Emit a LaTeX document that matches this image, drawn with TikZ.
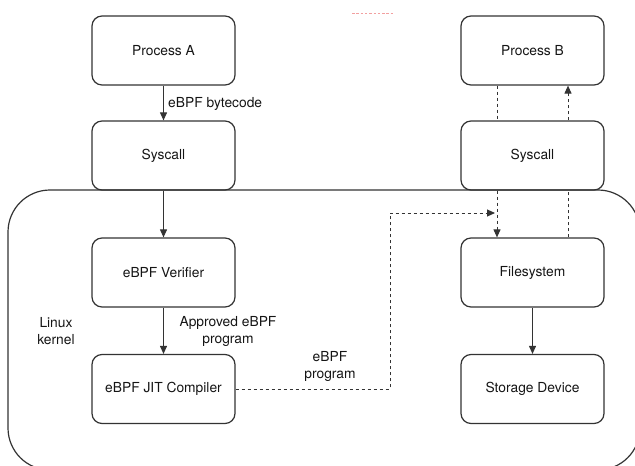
\documentclass[tikz,border=0pt]{standalone}
\usepackage{fontspec}
\setmainfont{TeX Gyre Heros}
\usetikzlibrary{arrows.meta,calc}
\definecolor{ln}{HTML}{333333}
\definecolor{tx}{HTML}{151515}
\definecolor{redart}{HTML}{F2A0A0}
\tikzset{
  box/.style={draw=ln, line width=1.2pt, rounded corners=10pt, minimum width=143pt, minimum height=69pt, inner sep=0pt, text=tx, font=\fontsize{13.8}{17}\selectfont},
  lbl/.style={text=tx, font=\fontsize{13.8}{17}\selectfont, inner sep=0pt, align=center},
  conn/.style={draw=ln, line width=1pt},
  arr/.style={conn, -{Triangle[length=8pt,width=7pt]}},
  dsh/.style={dash pattern=on 3pt off 3pt}
}
\begin{document}
\begin{tikzpicture}[x=1pt,y=-1pt]
\useasboundingbox (0,0) rectangle (635,466);
\begin{scope}
\clip (0,0) rectangle (635,466);
\draw[ln, line width=1.2pt, rounded corners=42pt] (8,190) rectangle (640,470);
\end{scope}
\draw[redart, line width=0.8pt, dash pattern=on 2.5pt off 1.8pt] (352,13) coordinate (r1) -- (393,13) coordinate (r2);

\node[box] (PA) at (163.5,50.5) {Process A};
\node[box] (S1) at (163.5,155.5) {Syscall};
\node[box] (V)  at (163.5,272.5) {eBPF Verifier};
\node[box] (J)  at (163.5,389) {eBPF JIT Compiler};
\node[box] (PB) at (532.5,50.5) {Process B};
\node[box] (S2) at (532.5,155.5) {Syscall};
\node[box] (FS) at (532.5,272.5) {Filesystem};
\node[box] (SD) at (532.5,389) {Storage Device};

\node[lbl, anchor=west] (lb1) at (168,104) {eBPF bytecode};
\node[lbl] (lk) at (56,331) {Linux\\kernel};
\node[lbl] (lb2) at (228,331) {Approved eBPF\\program};
\node[lbl] (lb3) at (330,366) {eBPF\\program};

\draw[arr] (PA) -- (S1);
\draw[arr] (S1) -- (V);
\draw[arr] (V) -- (J);
\draw[arr] (FS) -- (SD);

\coordinate (bend1) at (390,389);
\coordinate (bend2) at (390,213);
\coordinate (tip) at (495,213);
\draw[arr, dsh] (J.east) -- (bend1) -- (bend2) -- (tip);
\draw[arr, dsh] ([xshift=-35.5pt]S2.south) -- ([xshift=-35.5pt]FS.north);
\draw[conn, dsh] ([xshift=-35.5pt]PB.south) -- ([xshift=-35.5pt]S2.north);
\draw[conn, dsh] ([xshift=35.5pt]FS.north) -- ([xshift=35.5pt]S2.south);
\draw[arr, dsh] ([xshift=35.5pt]S2.north) -- ([xshift=35.5pt]PB.south);
\end{tikzpicture}
\end{document}
